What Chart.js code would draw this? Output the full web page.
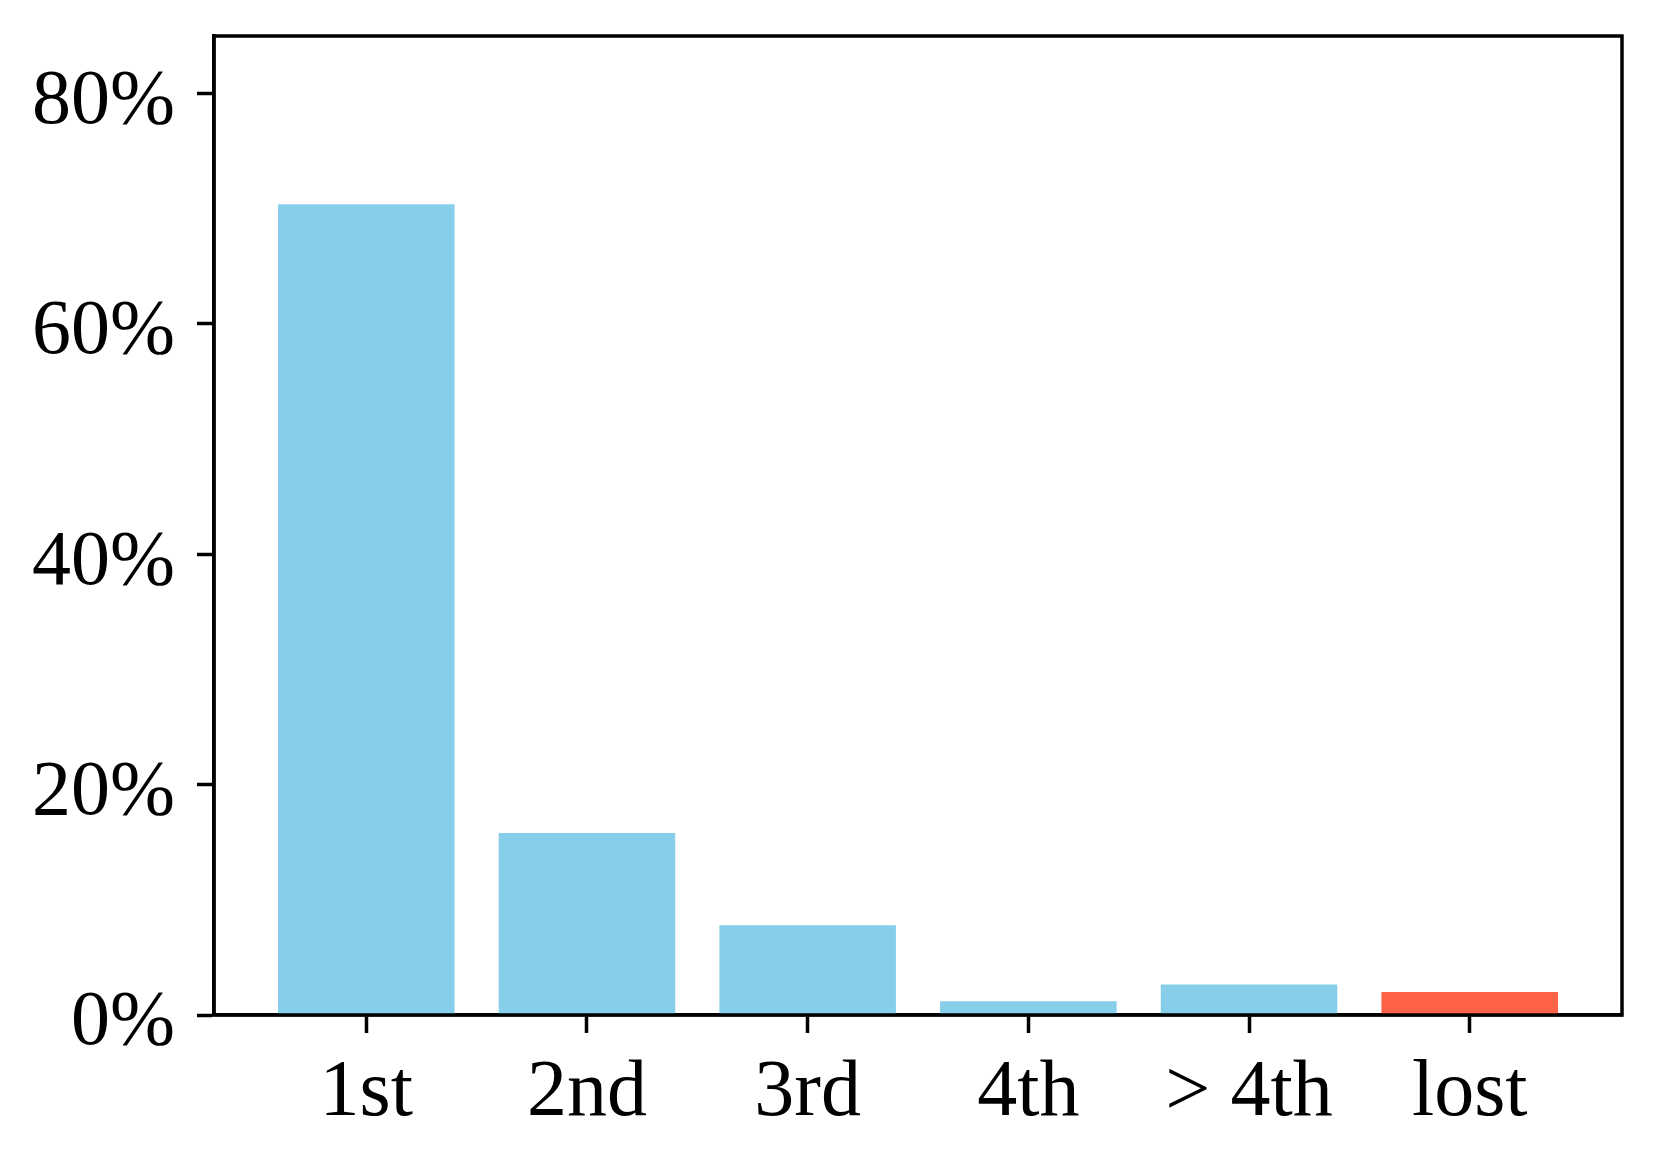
<!DOCTYPE html>
<html>
<head>
<meta charset="utf-8">
<script src="https://cdn.jsdelivr.net/npm/chart.js@4.4.0/dist/chart.umd.min.js"></script>
<style>
  html, body { margin: 0; padding: 0; background: #fff; }
  #wrap { width: 1659px; height: 1172px; }
</style>
</head>
<body>
<div id="wrap"><canvas id="rankChart"></canvas></div>
<script>
// Share of results by rank position (last bar = lost)
const categories = ['1st', '2nd', '3rd', '4th', '> 4th', 'lost'];
const shares = [70.4, 15.8, 7.8, 1.2, 2.65, 2.0];
const yTicks = [0, 20, 40, 60, 80];

const SKY = '#87CEEB';
const TOMATO = '#FF6347';
const FONT = "'Liberation Serif', 'DejaVu Serif', serif";

// Plugin: closed black frame around the plot area
const framePlugin = {
    id: 'frame',
    afterDraw(chart) {
        const { ctx, chartArea: a } = chart;
        ctx.save();
        ctx.strokeStyle = '#000';
        ctx.lineWidth = 3.5;
        ctx.strokeRect(a.left, a.top, a.right - a.left, a.bottom - a.top);
        ctx.restore();
    }
};

new Chart(document.getElementById('rankChart').getContext('2d'), {
    type: 'bar',
    data: {
        datasets: [{
            data: shares.map((v, i) => ({ x: i, y: v })),
            backgroundColor: categories.map(c => c === 'lost' ? TOMATO : SKY),
            borderWidth: 0,
            categoryPercentage: 1.0,
            barPercentage: 0.8
        }]
    },
    options: {
        responsive: true,
        maintainAspectRatio: false,
        animation: false,
        layout: { padding: { left: 0, top: 36, right: 37, bottom: 0 } },
        plugins: {
            legend: { display: false },
            tooltip: { enabled: false }
        },
        scales: {
            x: {
                type: 'linear',
                min: -0.69, max: 5.69,
                offset: false,
                afterBuildTicks: s => { s.ticks = categories.map((_, i) => ({ value: i })); },
                afterFit: s => { s.height = 157; s.paddingLeft = 0; s.paddingRight = 0; },
                ticks: {
                    callback: v => categories[v],
                    color: '#000',
                    font: { family: FONT, size: 80 },
                    padding: 13,
                    maxRotation: 0,
                    autoSkip: false
                },
                grid: {
                    drawOnChartArea: false,
                    drawTicks: true,
                    tickLength: 18,
                    tickWidth: 3.5,
                    tickColor: '#000',
                    offset: false
                },
                border: { display: true, color: '#000', width: 3.5 }
            },
            y: {
                min: 0, max: 85,
                afterBuildTicks: s => { s.ticks = yTicks.map(v => ({ value: v })); },
                afterFit: s => { s.width = 214; s.paddingTop = 0; s.paddingBottom = 0; },
                ticks: {
                    // empty first line nudges the label a little below its tick
                    callback: v => ['', v + '%'],
                    color: '#000',
                    font: { family: FONT, size: 78, lineHeight: '18px' },
                    padding: 22
                },
                grid: {
                    drawOnChartArea: false,
                    drawTicks: true,
                    tickLength: 17,
                    tickWidth: 3.5,
                    tickColor: '#000'
                },
                border: { display: true, color: '#000', width: 3.5 }
            }
        }
    },
    plugins: [framePlugin]
});
</script>
</body>
</html>
